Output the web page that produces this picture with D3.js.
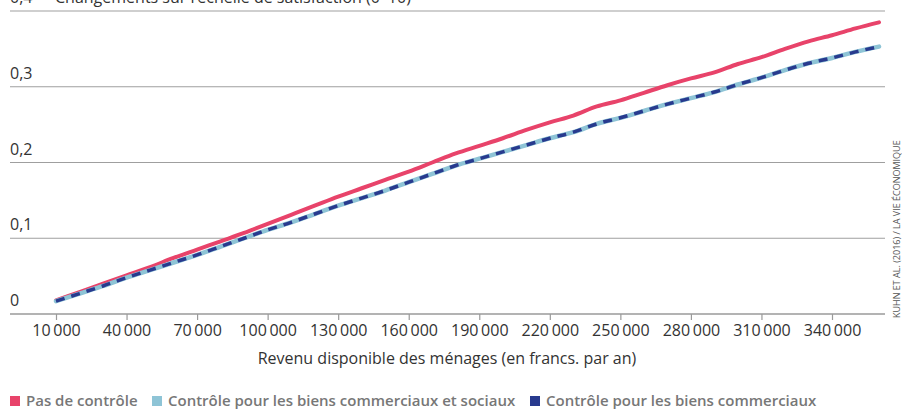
<!DOCTYPE html>
<html>
<head>
<meta charset="utf-8">
<script src="https://cdn.jsdelivr.net/npm/d3@7"></script>
<style>
  body { margin: 0; background: #fff; }
  svg { display: block; font-family: 'Open Sans', 'Noto Sans', sans-serif; }
</style>
</head>
<body>
<div id="chart"></div>
<script>
// revenu (francs par an)
const incomes = d3.range(10000, 360001, 10000)
const xTicks = [10000, 40000, 70000, 100000, 130000, 160000, 190000, 220000, 250000, 280000, 310000, 340000]
const yTicks = [0, 0.1, 0.2, 0.3, 0.4]

// changements sur l'échelle de satisfaction
const pasDeControle = [
  0.018, 0.029, 0.040, 0.051, 0.062, 0.074, 0.085, 0.096, 0.107, 0.119,
  0.131, 0.143, 0.155, 0.166, 0.177, 0.188, 0.200, 0.212, 0.222, 0.232,
  0.243, 0.253, 0.262, 0.274, 0.282, 0.292, 0.302, 0.311, 0.319, 0.330,
  0.339, 0.350, 0.360, 0.368, 0.377, 0.385
]
const controleCommSoc = [
  0.017, 0.027, 0.037, 0.048, 0.058, 0.068, 0.078, 0.089, 0.100, 0.111,
  0.121, 0.132, 0.143, 0.153, 0.163, 0.174, 0.185, 0.196, 0.205, 0.214,
  0.223, 0.232, 0.240, 0.251, 0.259, 0.268, 0.277, 0.285, 0.293, 0.303,
  0.312, 0.322, 0.331, 0.338, 0.346, 0.353
]
const controleComm = controleCommSoc.slice()

const legendItems = [
  { label: 'Pas de contrôle', color: '#e8436a' },
  { label: 'Contrôle pour les biens commerciaux et sociaux', color: '#8ec4d6' },
  { label: 'Contrôle pour les biens commerciaux', color: '#283a8e' }
]

const width = 902
const height = 410

const svg = d3.select('#chart')
  .append('svg')
  .attr('width', width)
  .attr('height', height)

const x = d3.scaleLinear().domain([10000, 340000]).range([56, 832])
const y = d3.scaleLinear().domain([0, 0.4]).range([314, 11])

const gridLeft = 10
const gridRight = 885

/* grille */
svg.append('g')
  .selectAll('line')
  .data(yTicks)
  .enter()
  .append('line')
  .attr('x1', gridLeft)
  .attr('x2', gridRight)
  .attr('y1', d => y(d))
  .attr('y2', d => y(d))
  .attr('stroke', d => d === 0 ? '#9a9a9a' : '#9f9f9f')
  .attr('stroke-width', d => d === 0 ? 1.5 : 1.2)

/* labels y */
svg.append('g')
  .selectAll('text')
  .data(yTicks)
  .enter()
  .append('text')
  .attr('x', gridLeft)
  .attr('y', d => y(d) - 8)
  .attr('fill', '#333')
  .style('font-size', '16px')
  .text(d => d === 0 ? '0' : d3.format('.1f')(d).replace('.', ','))

svg.append('text')
  .attr('x', 55)
  .attr('y', y(0.4) - 8)
  .attr('fill', '#333')
  .style('font-size', '16px')
  .text('Changements sur l\u2019échelle de satisfaction (0\u201310)')

/* axe x */
const xAxis = d3.axisBottom(x)
  .tickValues(xTicks)
  .tickSize(6)
  .tickFormat(d => d3.format(',')(d).replace(/,/g, '\u2009'))

const gx = svg.append('g')
  .attr('transform', 'translate(0,' + y(0) + ')')
  .call(xAxis)
gx.select('.domain').remove()
gx.selectAll('.tick line').attr('stroke', '#9a9a9a').attr('stroke-width', 1.2)
gx.selectAll('.tick text')
  .attr('y', 11)
  .attr('fill', '#333')
  .style('font-size', '16px')
  .style('font-family', "'Open Sans', 'Noto Sans', sans-serif")

svg.append('text')
  .attr('x', 447)
  .attr('y', 364)
  .attr('text-anchor', 'middle')
  .attr('fill', '#333')
  .style('font-size', '16px')
  .text('Revenu disponible des ménages (en francs. par an)')

/* lignes */
const line = d3.line()
  .x((d, i) => x(incomes[i]))
  .y(d => y(d))
  .curve(d3.curveMonotoneX)

svg.append('path')
  .datum(pasDeControle)
  .attr('d', line)
  .attr('fill', 'none')
  .attr('stroke', '#e8436a')
  .attr('stroke-width', 4)
  .attr('stroke-linecap', 'round')

svg.append('path')
  .datum(controleCommSoc)
  .attr('d', line)
  .attr('fill', 'none')
  .attr('stroke', '#8ec4d6')
  .attr('stroke-width', 4.5)
  .attr('stroke-linecap', 'round')

svg.append('path')
  .datum(controleComm)
  .attr('d', line)
  .attr('fill', 'none')
  .attr('stroke', '#283a8e')
  .attr('stroke-width', 3.5)
  .attr('stroke-dasharray', '9,7')

/* légende */
const legendX = [10, 152, 530]
const legend = svg.append('g')
  .selectAll('g')
  .data(legendItems)
  .enter()
  .append('g')
  .attr('transform', (d, i) => 'translate(' + legendX[i] + ',396)')
legend.append('rect')
  .attr('x', 0)
  .attr('y', 0)
  .attr('width', 10)
  .attr('height', 10)
  .attr('fill', d => d.color)
legend.append('text')
  .attr('x', 16)
  .attr('y', 10)
  .attr('fill', '#777')
  .style('font-size', '15px')
  .style('font-weight', 600)
  .text(d => d.label)

/* source */
svg.append('text')
  .attr('transform', 'translate(900,318) rotate(-90)')
  .attr('fill', '#555')
  .style('font-size', '9px')
  .text('KUHN ET AL. (2016) / LA VIE ÉCONOMIQUE')
</script>
</body>
</html>
